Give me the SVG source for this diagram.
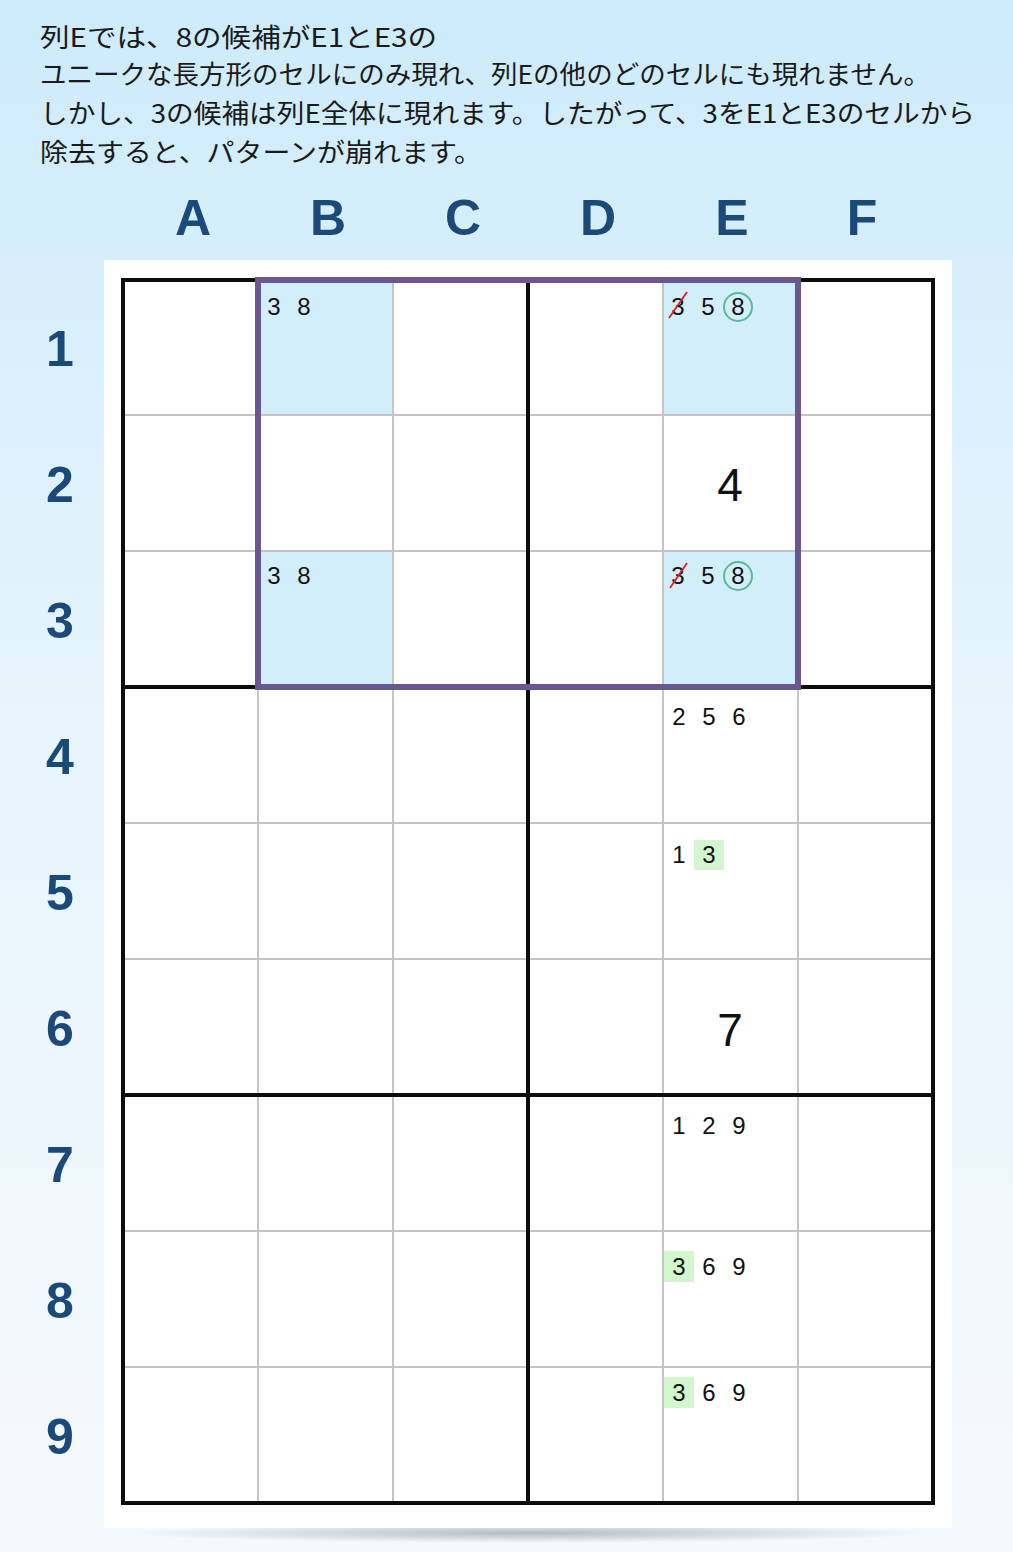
<svg xmlns="http://www.w3.org/2000/svg" width="1013" height="1552" viewBox="0 0 1013 1552">
<defs>
<linearGradient id="bg" x1="0" y1="0" x2="0" y2="1">
<stop offset="0" stop-color="#cdebfb"/>
<stop offset="0.45" stop-color="#e6f4fc"/>
<stop offset="1" stop-color="#f5f9fc"/>
</linearGradient>
<radialGradient id="sh" cx="0.5" cy="0.5" r="0.5">
<stop offset="0" stop-color="#000" stop-opacity="0.25"/>
<stop offset="1" stop-color="#000" stop-opacity="0"/>
</radialGradient>
<style>
.intro{font-family:"Noto Sans CJK JP","Noto Sans",sans-serif;font-size:26px;fill:#1a1a1a}
.lab{font-family:"Liberation Sans",Arial,sans-serif;font-weight:bold;font-size:50px;fill:#1c4a78;text-anchor:middle}
.cand{font-family:"Liberation Sans",Arial,sans-serif;font-size:24px;fill:#111;text-anchor:middle}
.big{font-family:"Liberation Sans",Arial,sans-serif;font-size:46px;fill:#111;text-anchor:middle}
.thin{stroke:#c4c4c4;stroke-width:2;fill:none}
.thick{stroke:#0d0d0d;stroke-width:4;fill:none}
.hl{fill:#d2eefa}
.gr{fill:#d3f6cf}
.circ{fill:none;stroke:#5cb89a;stroke-width:2}
.strike{stroke:#e0201c;stroke-width:1.8}
</style>
</defs>
<rect width="1013" height="1552" fill="url(#bg)"/>
<ellipse cx="528" cy="1533" rx="400" ry="10" fill="url(#sh)"/>
<rect x="104" y="260" width="848" height="1268" fill="#ffffff"/>
<g id="intro">
<text class="intro" x="40" y="47" textLength="397" lengthAdjust="spacingAndGlyphs">列Eでは、8の候補がE1とE3の</text>
<text class="intro" x="40" y="84" textLength="890" lengthAdjust="spacingAndGlyphs">ユニークな長方形のセルにのみ現れ、列Eの他のどのセルにも現れません。</text>
<text class="intro" x="40" y="123" textLength="935" lengthAdjust="spacingAndGlyphs">しかし、3の候補は列E全体に現れます。したがって、3をE1とE3のセルから</text>
<text class="intro" x="40" y="162" textLength="442" lengthAdjust="spacingAndGlyphs">除去すると、パターンが崩れます。</text>
</g>
<g id="col-labels">
<text class="lab" x="193" y="235">A</text>
<text class="lab" x="328" y="235">B</text>
<text class="lab" x="463" y="235">C</text>
<text class="lab" x="598" y="235">D</text>
<text class="lab" x="732" y="235">E</text>
<text class="lab" x="862" y="235">F</text>
</g>
<g id="row-labels">
<text class="lab" x="60" y="366">1</text>
<text class="lab" x="60" y="502">2</text>
<text class="lab" x="60" y="638">3</text>
<text class="lab" x="60" y="774">4</text>
<text class="lab" x="60" y="910">5</text>
<text class="lab" x="60" y="1046">6</text>
<text class="lab" x="60" y="1182">7</text>
<text class="lab" x="60" y="1318">8</text>
<text class="lab" x="60" y="1454">9</text>
</g>
<g id="highlights">
<rect class="hl" x="258" y="279" width="135" height="136"/>
<rect class="hl" x="258" y="551" width="135" height="136"/>
<rect class="hl" x="663" y="279" width="135" height="136"/>
<rect class="hl" x="663" y="551" width="135" height="136"/>
<rect class="gr" x="694" y="840" width="30" height="30"/>
<rect class="gr" x="664" y="1251" width="30" height="31"/>
<rect class="gr" x="664" y="1377" width="30" height="31"/>
</g>
<g id="grid">
<path class="thin" d="M258 279V1503M393 279V1503M663 279V1503M798 279V1503M123 415H933M123 551H933M123 823H933M123 959H933M123 1231H933M123 1367H933"/>
<path class="thick" d="M528 279V1503M123 687H933M123 1095H933"/>
<rect class="thick" x="123" y="280" width="810" height="1223"/>
</g>
<g id="rectangle">
<rect x="258" y="280" width="540" height="407" fill="none" stroke="#6a5691" stroke-width="6"/>
</g>
<g id="cell-B1">
<text class="cand" x="274" y="315">3</text>
<text class="cand" x="304" y="315">8</text>
</g>
<g id="cell-B3">
<text class="cand" x="274" y="584">3</text>
<text class="cand" x="304" y="584">8</text>
</g>
<g id="cell-E1">
<text class="cand" x="678" y="315">3</text>
<text class="cand" x="708" y="315">5</text>
<text class="cand" x="738" y="315">8</text>
<circle class="circ" cx="738" cy="307" r="14"/>
<line class="strike" x1="669" y1="318" x2="687" y2="292"/>
</g>
<g id="cell-E2"><text class="big" x="730" y="501">4</text></g>
<g id="cell-E3">
<text class="cand" x="678" y="584">3</text>
<text class="cand" x="708" y="584">5</text>
<text class="cand" x="738" y="584">8</text>
<circle class="circ" cx="738" cy="576" r="14"/>
<line class="strike" x1="670" y1="588" x2="687" y2="563"/>
</g>
<g id="cell-E4">
<text class="cand" x="679" y="725">2</text>
<text class="cand" x="709" y="725">5</text>
<text class="cand" x="739" y="725">6</text>
</g>
<g id="cell-E5">
<text class="cand" x="679" y="863">1</text>
<text class="cand" x="709" y="863">3</text>
</g>
<g id="cell-E6"><text class="big" x="730" y="1046">7</text></g>
<g id="cell-E7">
<text class="cand" x="679" y="1134">1</text>
<text class="cand" x="709" y="1134">2</text>
<text class="cand" x="739" y="1134">9</text>
</g>
<g id="cell-E8">
<text class="cand" x="679" y="1275">3</text>
<text class="cand" x="709" y="1275">6</text>
<text class="cand" x="739" y="1275">9</text>
</g>
<g id="cell-E9">
<text class="cand" x="679" y="1401">3</text>
<text class="cand" x="709" y="1401">6</text>
<text class="cand" x="739" y="1401">9</text>
</g>
</svg>
